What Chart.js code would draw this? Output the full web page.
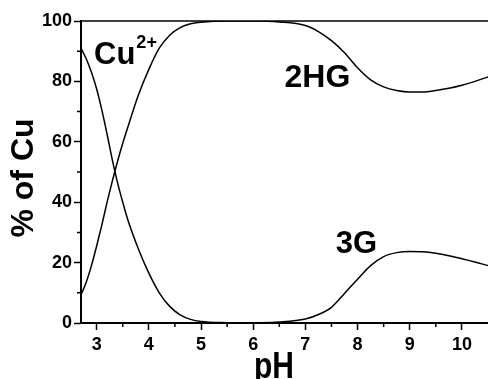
<!DOCTYPE html>
<html>
<head>
<meta charset="utf-8">
<script src="https://cdn.jsdelivr.net/npm/chart.js@4/dist/chart.umd.min.js"></script>
<style>
    body { margin: 0; background: #fff; }
    #wrap { width: 488px; height: 379px; position: relative; }
</style>
</head>
<body>
<div id="wrap"><canvas id="graficoEspecies"></canvas></div>
<script>
// pH grid and the species distribution (% of Cu)
const phValues = [2.7, 2.8, 2.9, 3.0, 3.1, 3.2, 3.3, 3.4, 3.5, 3.6, 3.8, 4.0, 4.2, 4.4, 4.6, 4.8, 5.0,
    5.5, 6.0, 6.5, 7.0, 7.25, 7.5, 7.75, 8.0, 8.25, 8.5, 8.75, 9.0, 9.25, 9.5, 9.75, 10.0, 10.25, 10.5];

const cuFree = [91, 87.5, 83, 77.5, 70.5, 62.5, 54, 46.5, 40, 34, 24.5, 16.5, 10, 5.5, 2.7, 1.2, 0.5,
    0.1, 0, 0, 0, 0, 0, 0, 0, 0, 0, 0, 0, 0, 0, 0, 0, 0, 0];

const hg2 = [9.3, 13.5, 19, 25.5, 32.5, 40, 47, 53.5, 59.5, 65, 75.5, 84, 91, 95.3, 97.8, 99.1, 99.6,
    100, 100, 99.7, 98.5, 96.5, 93.5, 89.5, 84.5, 80.5, 78.2, 77, 76.5, 76.5, 77, 77.7, 78.7, 80, 81.5];

const g3 = [0, 0, 0, 0, 0, 0, 0, 0, 0, 0, 0, 0, 0, 0, 0, 0, 0,
    0, 0.05, 0.3, 1.3, 2.8, 5.2, 9.8, 14.5, 19, 22, 23.3, 23.7, 23.6, 23.1, 22.3, 21.3, 20.2, 19];

const xTicks = [3, 4, 5, 6, 7, 8, 9, 10];
const yTicks = [0, 20, 40, 60, 80, 100];
const xMinor = [3.5, 4.5, 5.5, 6.5, 7.5, 8.5, 9.5];
const yMinor = [10, 30, 50, 70, 90];

const FONT = "'Liberation Sans', Arial, Helvetica, sans-serif";

let chartInstance = null;

document.addEventListener('DOMContentLoaded', () => {
    crearGrafico();
});

function puntos(serie) {
    return phValues.map((ph, i) => ({ x: ph, y: serie[i] }));
}

// extra drawing: top frame line, minor ticks, titles and species labels
const decoraciones = {
    id: 'decoraciones',
    afterDraw(chart) {
        const { ctx, chartArea, scales } = chart;
        const x = scales.x, y = scales.y;
        ctx.save();
        ctx.strokeStyle = '#000';
        ctx.lineWidth = 1.5;

        // top frame line
        ctx.beginPath();
        ctx.moveTo(chartArea.left, chartArea.top);
        ctx.lineTo(chartArea.right, chartArea.top);
        ctx.stroke();

        // minor ticks
        ctx.beginPath();
        xMinor.forEach(v => {
            const px = x.getPixelForValue(v);
            ctx.moveTo(px, chartArea.bottom);
            ctx.lineTo(px, chartArea.bottom + 4);
        });
        yMinor.forEach(v => {
            const py = y.getPixelForValue(v);
            ctx.moveTo(chartArea.left, py);
            ctx.lineTo(chartArea.left - 4, py);
        });
        ctx.stroke();

        ctx.fillStyle = '#000';

        // species labels
        ctx.textAlign = 'left';
        ctx.textBaseline = 'alphabetic';
        ctx.font = 'bold 31px ' + FONT;
        const cuX = x.getPixelForValue(2.95), cuY = y.getPixelForValue(85.6);
        ctx.fillText('Cu', cuX, cuY);
        const cuW = ctx.measureText('Cu').width;
        ctx.font = 'bold 18px ' + FONT;
        ctx.fillText('2+', cuX + cuW + 1, cuY - 16);

        ctx.font = 'bold 32px ' + FONT;
        ctx.fillText('2HG', x.getPixelForValue(6.6), y.getPixelForValue(78.2));
        ctx.font = 'bold 31px ' + FONT;
        ctx.fillText('3G', x.getPixelForValue(7.58), y.getPixelForValue(23.3));

        // axis titles
        ctx.save();
        ctx.translate(33, 178);
        ctx.rotate(-Math.PI / 2);
        ctx.textAlign = 'center';
        ctx.font = 'bold 32px ' + FONT;
        ctx.fillText('% of Cu', 0, 0);
        ctx.restore();

        ctx.save();
        ctx.translate(274, 378);
        ctx.scale(1, 1.2);
        ctx.textAlign = 'center';
        ctx.font = 'bold 30px ' + FONT;
        ctx.fillText('pH', 0, 0);
        ctx.restore();

        ctx.restore();
    }
};

function crearGrafico() {
    const ctx = document.getElementById('graficoEspecies').getContext('2d');

    if (chartInstance !== null) {
        chartInstance.destroy();
    }

    const estiloLinea = {
        borderColor: '#000',
        borderWidth: 1.5,
        pointRadius: 0,
        fill: false,
        cubicInterpolationMode: 'monotone'
    };

    chartInstance = new Chart(ctx, {
        type: 'line',
        data: {
            datasets: [
                { label: 'Cu2+', data: puntos(cuFree), ...estiloLinea },
                { label: '2HG', data: puntos(hg2), ...estiloLinea },
                { label: '3G', data: puntos(g3), ...estiloLinea }
            ]
        },
        options: {
            responsive: true,
            maintainAspectRatio: false,
            animation: false,
            layout: { padding: { top: 21, right: 0, left: 0, bottom: 0 } },
            plugins: {
                legend: { display: false },
                tooltip: { enabled: false }
            },
            scales: {
                x: {
                    type: 'linear',
                    min: 2.7,
                    max: 10.5,
                    afterBuildTicks: scale => { scale.ticks = xTicks.map(v => ({ value: v })); },
                    afterFit: scale => { scale.height = 56; },
                    grid: { drawOnChartArea: false, drawTicks: true, tickLength: 7, tickColor: '#000', tickWidth: 1.5 },
                    border: { color: '#000', width: 2 },
                    ticks: {
                        color: '#000',
                        padding: 4,
                        maxRotation: 0,
                        font: { family: FONT, size: 18, weight: 'bold' }
                    }
                },
                y: {
                    min: 0,
                    max: 100,
                    afterBuildTicks: scale => { scale.ticks = yTicks.map(v => ({ value: v })); },
                    afterFit: scale => { scale.width = 81; },
                    grid: { drawOnChartArea: false, drawTicks: true, tickLength: 7, tickColor: '#000', tickWidth: 1.5 },
                    border: { color: '#000', width: 2 },
                    ticks: {
                        color: '#000',
                        padding: 2,
                        font: { family: FONT, size: 18, weight: 'bold' }
                    }
                }
            }
        },
        plugins: [decoraciones]
    });
}
</script>
</body>
</html>
